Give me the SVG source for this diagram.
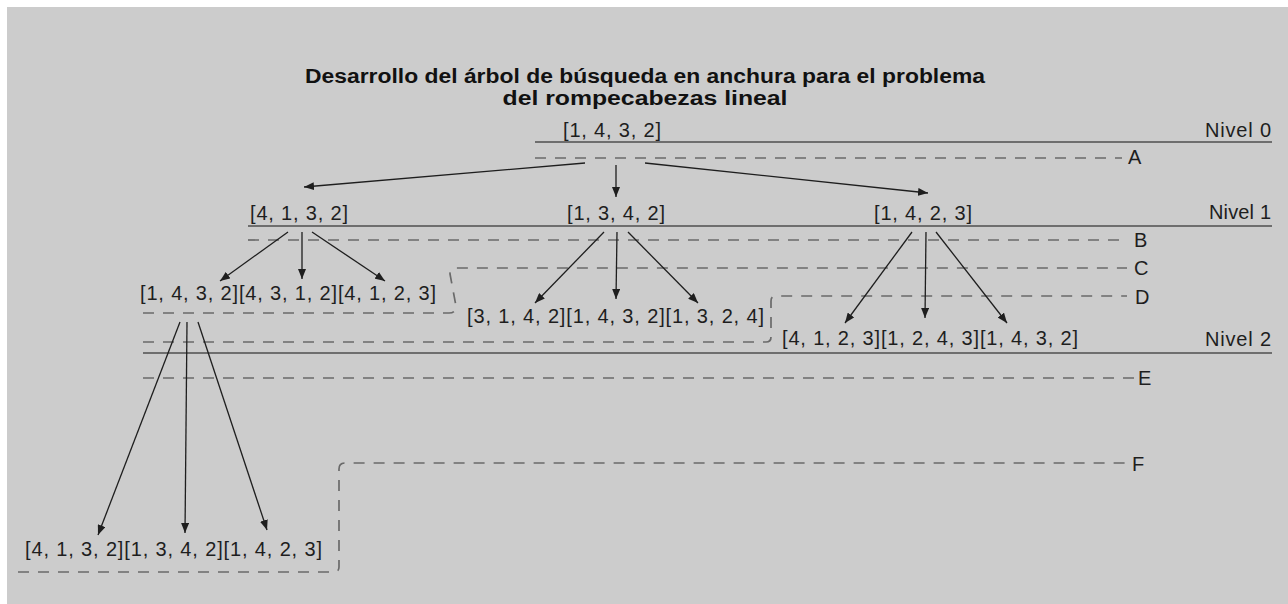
<svg xmlns="http://www.w3.org/2000/svg" width="1288" height="604" viewBox="0 0 1288 604">
<defs>
<style>
.t{font-family:"Liberation Sans",Arial,sans-serif;font-size:20px;fill:#1e1e1e}
.ttl{font-family:"Liberation Sans",Arial,sans-serif;font-size:19.5px;font-weight:bold;fill:#111;text-anchor:middle}
.lvl{stroke:#6e6e6e;stroke-width:2;fill:none}
.dash{stroke:#6a6a6a;stroke-width:1.7;fill:none;stroke-dasharray:11 9}
.arr{stroke:#1e1e1e;stroke-width:1.3;fill:none;marker-end:url(#ah)}
</style>
<marker id="ah" viewBox="0 0 10 8" refX="10" refY="4" markerWidth="10" markerHeight="8" markerUnits="userSpaceOnUse" orient="auto">
<path d="M0,0 L10,4 L0,8 z" fill="#1e1e1e"/>
</marker>
</defs>
<rect x="7" y="7" width="1281" height="597" fill="#cccccc"/>
<g id="title">
<text class="ttl" x="645" y="83" textLength="680" lengthAdjust="spacingAndGlyphs">Desarrollo del árbol de búsqueda en anchura para el problema</text>
<text class="ttl" x="645" y="105" textLength="285" lengthAdjust="spacingAndGlyphs">del rompecabezas lineal</text>
</g>
<g id="levels">
<path class="lvl" d="M535,142 H1272"/>
<path class="lvl" d="M248,226 H1272"/>
<path class="lvl" d="M143,353 H1272"/>
<text class="t" x="1271" y="137" text-anchor="end" textLength="66">Nivel 0</text>
<text class="t" x="1271" y="219" text-anchor="end" textLength="62">Nivel 1</text>
<text class="t" x="1271" y="346" text-anchor="end" textLength="66">Nivel 2</text>
</g>
<g id="borders">
<path class="dash" d="M535,158 H1122"/>
<path class="dash" d="M248,240 H1127"/>
<path class="dash" d="M143,313 H449 Q456,313 456,306 L450,274 Q450,268 456,268 H1127"/>
<path class="dash" d="M143,342 H766 Q771,342 771,337 L771,301 Q771,296 776,296 H1127"/>
<path class="dash" d="M143,378 H1134"/>
<path class="dash" d="M18,572 H334 Q339,572 339,567 V469 Q339,463 345,463 H1126"/>
<text class="t" x="1128" y="164">A</text>
<text class="t" x="1134" y="247">B</text>
<text class="t" x="1134" y="275">C</text>
<text class="t" x="1135" y="304">D</text>
<text class="t" x="1138" y="385">E</text>
<text class="t" x="1132" y="471">F</text>
</g>
<g id="n0"><text class="t" x="563" y="137" textLength="98">[1, 4, 3, 2]</text></g>
<g id="n1a"><text class="t" x="250" y="220" textLength="98">[4, 1, 3, 2]</text></g>
<g id="n1b"><text class="t" x="567" y="220" textLength="98">[1, 3, 4, 2]</text></g>
<g id="n1c"><text class="t" x="874" y="220" textLength="98">[1, 4, 2, 3]</text></g>
<g id="n2a"><text class="t" x="140" y="300" textLength="296">[1, 4, 3, 2][4, 3, 1, 2][4, 1, 2, 3]</text></g>
<g id="n2b"><text class="t" x="467" y="323" textLength="297">[3, 1, 4, 2][1, 4, 3, 2][1, 3, 2, 4]</text></g>
<g id="n2c"><text class="t" x="782" y="345" textLength="296">[4, 1, 2, 3][1, 2, 4, 3][1, 4, 3, 2]</text></g>
<g id="n3"><text class="t" x="25" y="556" textLength="297">[4, 1, 3, 2][1, 3, 4, 2][1, 4, 2, 3]</text></g>
<g id="connectors">
<path class="arr" d="M585,163 L304,187"/>
<path class="arr" d="M616,165 L616,197"/>
<path class="arr" d="M645,163 L928,193"/>
<path class="arr" d="M288,232 L220,281"/>
<path class="arr" d="M302,232 L302,279"/>
<path class="arr" d="M312,232 L385,281"/>
<path class="arr" d="M604,232 L535,303"/>
<path class="arr" d="M617,232 L616,299"/>
<path class="arr" d="M628,232 L698,303"/>
<path class="arr" d="M912,232 L845,323"/>
<path class="arr" d="M926,232 L925,318"/>
<path class="arr" d="M936,232 L1007,323"/>
<path class="arr" d="M180,322 L98,535"/>
<path class="arr" d="M187,322 L185,533"/>
<path class="arr" d="M198,322 L267,530"/>
</g>
</svg>
